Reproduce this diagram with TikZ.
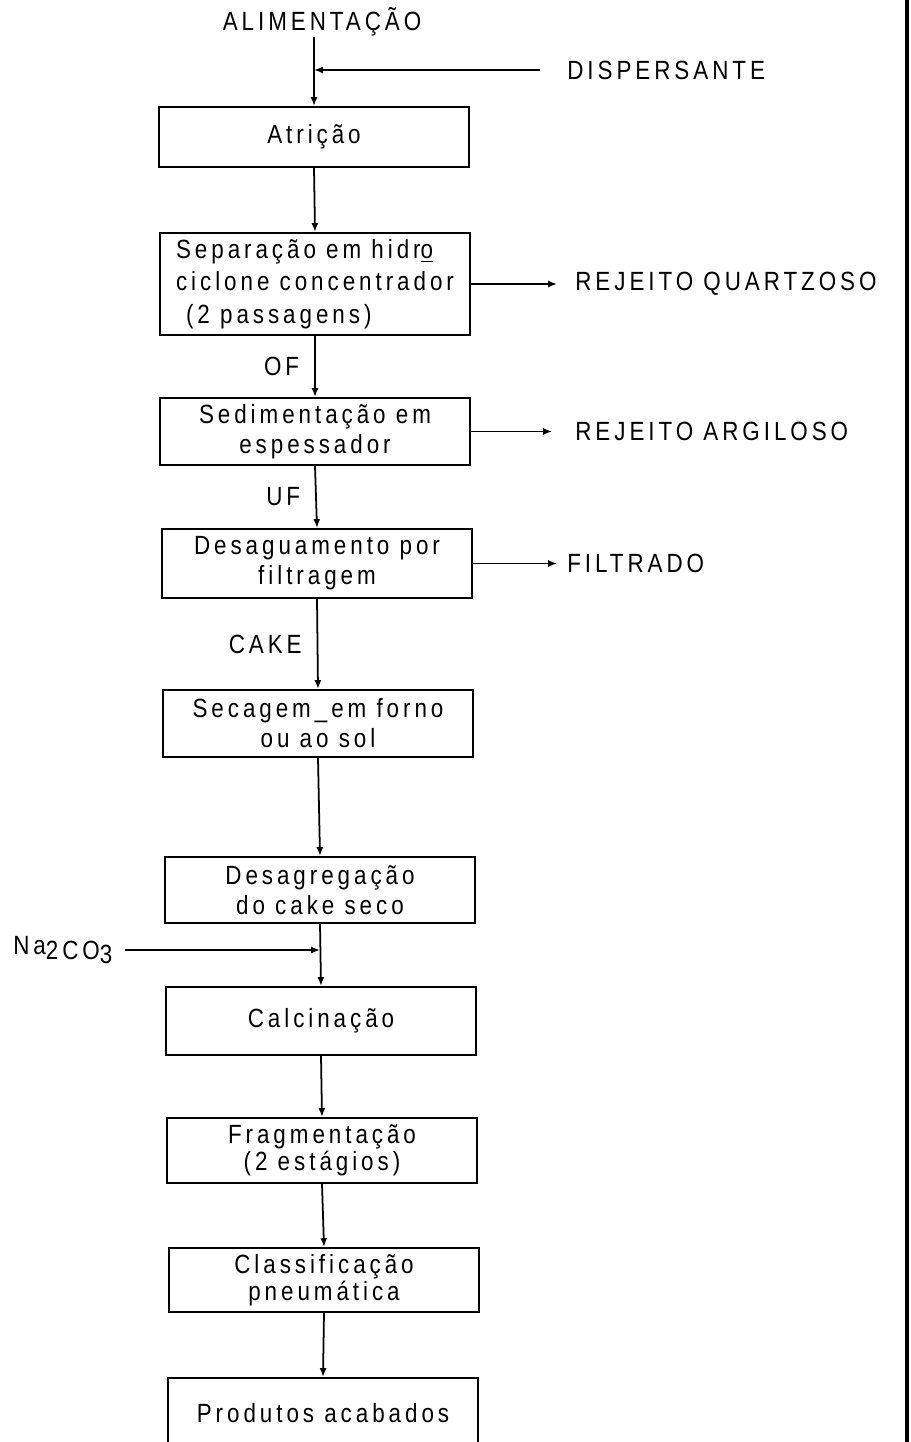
\documentclass[tikz,border=0pt]{standalone}
\usepackage{fontspec}
\setmainfont[LetterSpace=15,FakeStretch=0.85,Ligatures=NoCommon]{Liberation Sans}
\usepackage{tikz}
\usetikzlibrary{arrows.meta}

\begin{document}
\begin{tikzpicture}[
  x=0.02cm, y=-0.02cm,
  font=\fontsize{15}{17}\selectfont,
  stage/.style={draw=black,line width=1.2pt,minimum width=6.2cm,minimum height=1.34cm,align=center,inner sep=2pt},
  tight/.style={font=\fontsize{15}{13.5}\selectfont},
  loose/.style={font=\fontsize{15}{18.5}\selectfont},
  flow/.style={draw=black,line width=1pt,-{Latex[length=5pt,width=4pt]}},
  tag/.style={inner sep=0pt},
  lab/.style={left,inner sep=0pt,xshift=-0.3cm},
  frame/.style={draw=black,line width=2.8pt},
]
\useasboundingbox (0,0) rectangle (910,1442);

% main line of stages
\node[tag] (feed) at (322,22) {ALIMENTAÇÃO};
\node[stage,minimum height=1.2cm] (atr) at (314,137) {Atrição};
\node[stage,loose,minimum height=2.04cm,align=left] (sep) at (315,284) {Separação em hidr\underline{o}\\ciclone concentrador\\\hspace*{0.2cm}(2 passagens)};
\node[stage] (sed) at (315,431.5) {Sedimentação em\\espessador};
\node[stage,minimum height=1.38cm] (desag) at (317,563.5) {Desaguamento por\\filtragem};
\node[stage] (sec) at (318,723.5) {Secagem\_em forno\\ou ao sol};
\node[stage,minimum height=1.32cm] (desagr) at (320,890) {Desagregação\\do cake seco};
\node[stage,minimum height=1.36cm] (calc) at (321,1021) {Calcinação};
\node[stage,tight,minimum height=1.3cm] (frag) at (322,1150.5) {Fragmentação\\(2 estágios)};
\node[stage,tight,minimum height=1.28cm] (class) at (324,1280) {Classificação\\pneumática};
\node[stage,minimum height=1.4cm] (prod) at (323,1413) {Produtos acabados};

% side streams
\node[tag,anchor=west] (disp) at (567,70) {DISPERSANTE};
\node[tag,anchor=west] (rq) at (575,284) {REJEITO QUARTZOSO};
\node[tag,anchor=west] (ra) at (575,431.5) {REJEITO ARGILOSO};
\node[tag,anchor=west] (filt) at (567,563.5) {FILTRADO};
\node[tag,anchor=west] (soda) at (13,950) {Na\raisebox{-0.35ex}{2CO\raisebox{-0.25ex}{3}}};
\coordinate (mix) at (atr.north |- disp.west);
\coordinate (dose) at (desagr.south |- soda.east);

\draw[flow] (feed.south -| atr.north) -- (atr.north);
\draw[flow,shorten <=0.54cm] (disp.west) -- (mix);
\draw[flow] (atr.south) -- (sep.north);
\draw[flow] (sep.south) -- node[lab] {OF} (sed.north);
\draw[flow] (sed.south) -- node[lab] {UF} (desag.north);
\draw[flow] (desag.south) -- node[lab] {CAKE} (sec.north);
\draw[flow] (sec.south) -- (desagr.north);
\draw[flow] (desagr.south) -- (calc.north);
\draw[flow,shorten <=0.24cm] (soda.east) -- (dose);
\draw[flow] (calc.south) -- (frag.north);
\draw[flow] (frag.south) -- (class.north);
\draw[flow] (class.south) -- (prod.north);

\draw[flow,shorten >=0.36cm] (sep.east) -- (rq.west);
\draw[flow,shorten >=0.46cm] (sed.east) -- (ra.west);
\draw[flow,shorten >=0.2cm] (desag.east) -- (filt.west);

% page edge
\draw[frame] (907,0) -- (907,1442);
\end{tikzpicture}
\end{document}
